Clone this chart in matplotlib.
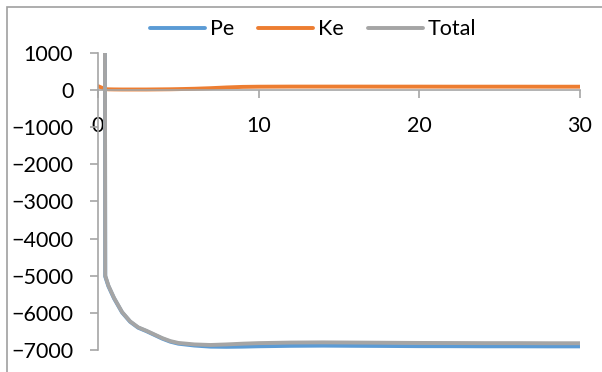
import matplotlib
matplotlib.use("Agg")
import matplotlib.pyplot as plt
import numpy as np
from matplotlib.patches import Rectangle

# energy per step
t = [0, 0.45, 0.65, 1.0, 1.5, 2.0, 2.5, 3.0, 3.5, 4.0, 4.5, 5.0, 6.0, 7.0,
     8.0, 9.0, 10, 12, 14, 16, 18, 20, 22, 24, 26, 28, 30]
total = [150000, -5000, -5270, -5600, -5980, -6230, -6390, -6480, -6580, -6680,
         -6760, -6810, -6850, -6865, -6850, -6830, -6815, -6800, -6795, -6800,
         -6805, -6810, -6812, -6815, -6815, -6818, -6818]
ke = [100, 20, 15, 12, 10, 10, 10, 10, 12, 14, 16, 20, 30, 45, 65, 80, 85, 88,
      88, 88, 87, 87, 86, 86, 86, 85, 85]
pe = [149900, -5020, -5285, -5612, -5990, -6240, -6400, -6490, -6592, -6694,
      -6776, -6830, -6880, -6910, -6915, -6910, -6900, -6888, -6883, -6888,
      -6892, -6897, -6898, -6901, -6901, -6903, -6903]

plt.rcParams['font.family'] = ['Lato', 'DejaVu Sans']
axis_grey = '#a6a6a6'

fig = plt.figure(figsize=(6.02, 3.72), dpi=100)
ax = fig.add_axes([98 / 602, 1 - 350 / 372, 482 / 602, 297.3 / 372])

ax.plot(t, pe, color='#5b9bd5', lw=2.8, label='Pe', solid_capstyle='round')
ax.plot(t, ke, color='#ed7d31', lw=2.8, label='Ke', solid_capstyle='round')
ax.plot(t, total, color='#a5a5a5', lw=2.8, label='Total', solid_capstyle='round')

ax.set_xlim(0, 30)
ax.set_ylim(-7000, 1000)
ax.set_xticks([0, 10, 20, 30])
ax.set_yticks(np.arange(-7000, 1001, 1000))

for side in ['top', 'right']:
    ax.spines[side].set_visible(False)
ax.spines['bottom'].set_position(('data', 0))
for side in ['left', 'bottom']:
    ax.spines[side].set_color(axis_grey)
    ax.spines[side].set_linewidth(1.2)

ax.tick_params(axis='both', direction='out', length=5.8, width=1.2,
               color=axis_grey, labelsize=15.5, labelcolor='black')
ax.tick_params(axis='x', pad=13)
ax.tick_params(axis='y', pad=12)

fig.legend(loc='upper center', bbox_to_anchor=(0.52, 1.0), ncol=3,
           frameon=False, fontsize=15.5, handlelength=2.55,
           handletextpad=0.25, columnspacing=1.1)

fig.add_artist(Rectangle((7 / 602, -0.1), 1.1, 1.1 - 7 / 372,
                         transform=fig.transFigure, fill=False,
                         edgecolor='#a0a0a0', lw=1.2))

fig.savefig('out.png', dpi=100)
